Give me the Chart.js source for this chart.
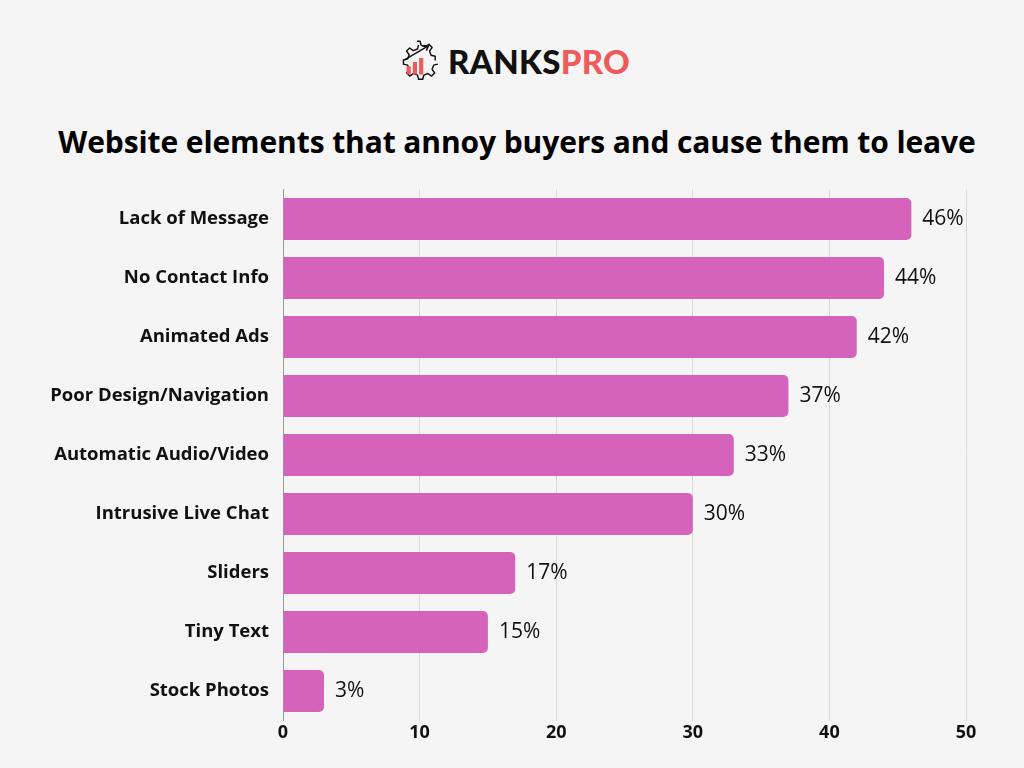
<!DOCTYPE html>
<html>
<head>
<meta charset="utf-8">
<script src="https://cdn.jsdelivr.net/npm/chart.js@4.4.0/dist/chart.umd.min.js"></script>
<style>
  body { margin: 0; background: #f5f5f5; }
  #wrap { position: relative; width: 1024px; height: 768px; background: #f5f5f5; overflow: hidden; }
  #logo { position: absolute; left: 392px; top: 36px; height: 50px; display: flex; align-items: center; }
  #logo span.brand { font-family: 'Lato', sans-serif; font-weight: 900; font-size: 33px; letter-spacing: 0.3px; margin-left: 6px; }
  #title { position: absolute; left: 0; width: 1034px; top: 121px; text-align: center; font-family: 'Open Sans', sans-serif; font-weight: 700; font-size: 30px; letter-spacing: -0.1px; color: #000; }
  canvas { position: absolute; left: 0; top: 0; }
</style>
</head>
<body>
<div id="wrap">
  <div id="logo">
    <svg width="50" height="50" viewBox="0 0 48 46">
      <path d="M24 4 l3 0 l1 4 l4 1.5 l3.5 -2.5 l3 3 l-2.5 3.5 l1.5 4 l4 1 l0 4 M44 26 l-4 1 l-1.5 4 l2.5 3.5 l-3 3 l-3.5 -2.5 l-4 1.5 l-1 4 l-4 0 l-1 -4 l-4 -1.5 l-3.5 2.5 l-3 -3 l2.5 -3.5 l-1.5 -4 l-4 -1 l0 -4 l4 -1 l1.5 -4 l-2.5 -3.5 l3 -3 l3.5 2.5 l4 -1.5 l1 -4"
        fill="none" stroke="#111" stroke-width="1.4" stroke-linejoin="round"/>
      <rect x="14" y="28" width="4" height="8" fill="#ef5b5b"/>
      <rect x="20" y="24" width="4" height="12" fill="#ef5b5b"/>
      <rect x="26" y="20" width="4" height="16" fill="#ef5b5b"/>
      <path d="M12 22 L34 9" stroke="#111" stroke-width="1.4"/>
      <path d="M30 8 L35 8.5 L33 13" fill="none" stroke="#111" stroke-width="1.4"/>
    </svg>
    <span class="brand"><span style="color:#111">RANKS</span><span style="color:#ef5b5b">PRO</span></span>
  </div>
  <div id="title">Website elements that annoy buyers and cause them to leave</div>
  <canvas id="myChart" width="1024" height="768"></canvas>
</div>
<script>
document.addEventListener('DOMContentLoaded', function () {

    // data
    var categories = ['Lack of Message', 'No Contact Info', 'Animated Ads', 'Poor Design/Navigation',
        'Automatic Audio/Video', 'Intrusive Live Chat', 'Sliders', 'Tiny Text', 'Stock Photos'];
    var values = [46, 44, 42, 37, 33, 30, 17, 15, 3];
    var xTicks = [0, 10, 20, 30, 40, 50];

    // draws "46%" etc. after each bar
    var valueLabels = {
        id: 'valueLabels',
        afterDatasetsDraw: function (chart) {
            var ctx = chart.ctx;
            var meta = chart.getDatasetMeta(0);
            ctx.save();
            ctx.font = '400 21px "Open Sans", sans-serif';
            ctx.fillStyle = '#111';
            ctx.textBaseline = 'middle';
            ctx.textAlign = 'left';
            meta.data.forEach(function (bar, i) {
                ctx.fillText(values[i] + '%', bar.x + 11, bar.y);
            });
            ctx.restore();
        }
    };

    var ctx = document.getElementById('myChart').getContext('2d');
    var chart = new Chart(ctx, {
        type: 'bar',
        data: {
            labels: categories,
            datasets: [{
                data: values,
                backgroundColor: '#d563bb',
                borderRadius: { topRight: 5, bottomRight: 5, topLeft: 0, bottomLeft: 0 },
                borderSkipped: 'start',
                barPercentage: 0.71,
                categoryPercentage: 1
            }]
        },
        options: {
            indexAxis: 'y',
            responsive: false,
            animation: false,
            layout: { padding: { left: 0, right: 58, top: 189.5, bottom: 19.5 } },
            plugins: {
                legend: { display: false },
                tooltip: { enabled: false }
            },
            scales: {
                x: {
                    min: 0,
                    max: 50,
                    afterBuildTicks: function (scale) {
                        scale.ticks = xTicks.map(function (v) { return { value: v }; });
                    },
                    afterFit: function (scale) { scale.height = 28; },
                    grid: { color: '#d9d9d9', drawTicks: false, lineWidth: 1 },
                    border: { display: false },
                    ticks: {
                        padding: 2,
                        color: '#111',
                        font: { family: '"Open Sans", sans-serif', weight: 'bold', size: 18 }
                    }
                },
                y: {
                    afterFit: function (scale) { scale.width = 283; },
                    grid: { display: false, drawTicks: false },
                    border: { display: true, color: '#9a9a9a', width: 1 },
                    ticks: {
                        padding: 14,
                        color: '#111',
                        font: { family: '"Open Sans", sans-serif', weight: 'bold', size: 18.5 }
                    }
                }
            }
        },
        plugins: [valueLabels]
    });

});
</script>
</body>
</html>
